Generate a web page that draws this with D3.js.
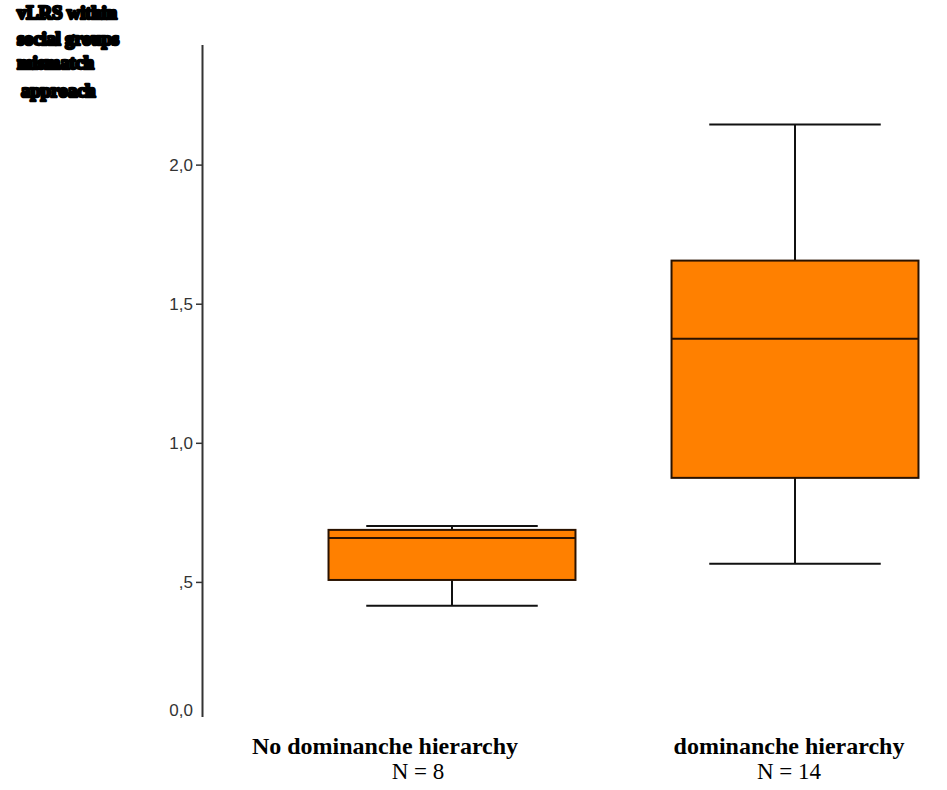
<!DOCTYPE html>
<html>
<head>
<meta charset="utf-8">
<script src="https://cdn.jsdelivr.net/npm/d3@7"></script>
<style>
  html, body { margin: 0; padding: 0; background: #fff; }
  svg { display: block; }
</style>
</head>
<body>
<svg id="chart" width="947" height="790"></svg>
<script>
// Group names and sample sizes
const groups = ["No dominanche hierarchy", "dominanche hierarchy"];
const groupN = ["N = 8", "N = 14"];

// Five-number summaries per group: lower whisker, Q1, median, Q3, upper whisker
const whiskerLow  = [0.414, 0.565];
const quartile1   = [0.507, 0.874];
const medians     = [0.658, 1.374];
const quartile3   = [0.687, 1.655];
const whiskerHigh = [0.701, 2.144];

// Y axis ticks and their labels (decimal comma)
const yTicks = [0, 0.5, 1.0, 1.5, 2.0];
const yTickLabels = ["0,0", ",5", "1,0", "1,5", "2,0"];

const yTitleLines = ["vLRS within", "social groups", "mismatch", "approach"];

const svg = d3.select("#chart");

const y = d3.scaleLinear().domain([0, 2.43]).range([721, 45]);
const x = d3.scaleBand().domain(groups).range([280.5, 966.5]).paddingInner(0).paddingOuter(0);

const boxW = x.bandwidth() * 0.72;
const capW = x.bandwidth() * 0.5;

// Y axis: plain vertical line, short ticks on the left
const yAxis = d3.axisLeft(y)
  .tickValues(yTicks)
  .tickFormat((d, i) => yTickLabels[i])
  .tickSize(6)
  .tickSizeOuter(0)
  .tickPadding(3);

const gAxis = svg.append("g")
  .attr("transform", "translate(202,0)")
  .call(yAxis);

gAxis.select(".domain").attr("stroke", "#333").attr("stroke-width", 2)
  .attr("d", `M0.5,717V45`);
gAxis.selectAll(".tick line").attr("stroke", "#333").attr("stroke-width", 1.5)
  .filter(d => d === 0).remove();
gAxis.selectAll(".tick text")
  .attr("font-family", "Liberation Sans, Arial, sans-serif")
  .attr("font-size", 17)
  .attr("fill", "#333")
  .attr("dy", d => d === 0 ? "-0.35em" : "0.32em");

// Y axis title (heavy, smudged bold)
const title = svg.append("text")
  .attr("font-family", "Liberation Serif, Times New Roman, serif")
  .attr("font-weight", "bold")
  .attr("font-size", 19)
  .attr("fill", "#000")
  .attr("stroke", "#000")
  .attr("stroke-width", 2.6)
  .attr("stroke-linejoin", "round")
  .attr("letter-spacing", -0.3);
const titleY = [19, 45, 69, 97];
const titleX = [17, 17, 17, 21];
yTitleLines.forEach((t, i) => {
  title.append("tspan").attr("x", titleX[i]).attr("y", titleY[i]).text(t);
});

// Boxes
const data = groups.map((g, i) => ({
  g, n: groupN[i], lo: whiskerLow[i], q1: quartile1[i], med: medians[i], q3: quartile3[i], hi: whiskerHigh[i]
}));

const box = svg.selectAll("g.box").data(data).join("g").attr("class", "box")
  .attr("transform", d => `translate(${x(d.g) + x.bandwidth() / 2},0)`);

// whisker stems
box.append("line")
  .attr("x1", 0).attr("x2", 0)
  .attr("y1", d => y(d.hi)).attr("y2", d => y(d.q3))
  .attr("stroke", "#111").attr("stroke-width", 2);
box.append("line")
  .attr("x1", 0).attr("x2", 0)
  .attr("y1", d => y(d.q1)).attr("y2", d => y(d.lo))
  .attr("stroke", "#111").attr("stroke-width", 2);
// caps
box.append("line")
  .attr("x1", -capW / 2).attr("x2", capW / 2)
  .attr("y1", d => y(d.hi)).attr("y2", d => y(d.hi))
  .attr("stroke", "#111").attr("stroke-width", 2);
box.append("line")
  .attr("x1", -capW / 2).attr("x2", capW / 2)
  .attr("y1", d => y(d.lo)).attr("y2", d => y(d.lo))
  .attr("stroke", "#111").attr("stroke-width", 2);
// box body
box.append("rect")
  .attr("x", -boxW / 2).attr("width", boxW)
  .attr("y", d => y(d.q3)).attr("height", d => y(d.q1) - y(d.q3))
  .attr("fill", "#ff8000").attr("stroke", "#2a1200").attr("stroke-width", 2);
// median
box.append("line")
  .attr("x1", -boxW / 2).attr("x2", boxW / 2)
  .attr("y1", d => y(d.med)).attr("y2", d => y(d.med))
  .attr("stroke", "#2a1200").attr("stroke-width", 2);

// Category labels (group name, then sample size)
const nameDx = [-67, -6];
const countDx = [-34, -6];
box.append("text")
  .attr("x", (d, i) => nameDx[i])
  .attr("y", 754)
  .attr("text-anchor", "middle")
  .attr("font-family", "Liberation Serif, Times New Roman, serif")
  .attr("font-weight", "bold")
  .attr("font-size", 24)
  .attr("fill", "#000")
  .text(d => d.g);
box.append("text")
  .attr("x", (d, i) => countDx[i])
  .attr("y", 779)
  .attr("text-anchor", "middle")
  .attr("font-family", "Liberation Serif, Times New Roman, serif")
  .attr("font-size", 23)
  .attr("fill", "#000")
  .text(d => d.n);
</script>
</body>
</html>
